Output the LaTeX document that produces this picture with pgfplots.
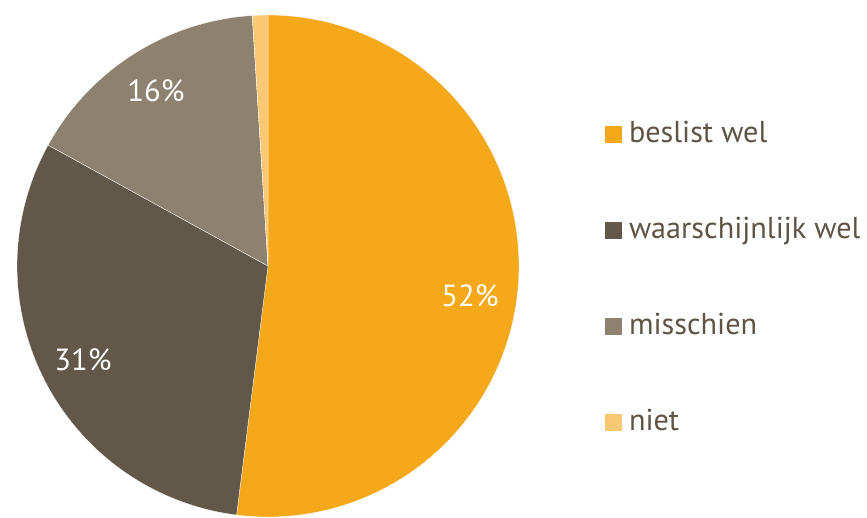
\documentclass[border=0pt]{standalone}
\usepackage{fontspec}
\setmainfont{PT Sans}
\usepackage{pgfplots}
\pgfplotsset{compat=1.18}
\definecolor{c1}{HTML}{F6A81B}
\definecolor{c2}{HTML}{625849}
\definecolor{c3}{HTML}{8D8270}
\definecolor{c4}{HTML}{F9C875}
\definecolor{txt}{HTML}{5E5446}
\def\vA{52}\def\vB{31}\def\vC{16}\def\vD{1}
\pgfmathsetmacro\aO{90}
\pgfmathsetmacro\aA{\aO-3.6*\vA}
\pgfmathsetmacro\aB{\aA-3.6*\vB}
\pgfmathsetmacro\aC{\aB-3.6*\vC}
\pgfmathsetmacro\aD{\aC-3.6*\vD}
\begin{document}
\begin{tikzpicture}
\begin{axis}[
  scale only axis, width=433.5pt, height=257.5pt,
  xmin=0, xmax=867, ymin=0, ymax=515,
  hide axis, clip=false,
  legend image code/.code={\path[#1,draw=none] (0pt,-4.25pt) rectangle (8.5pt,4.25pt);},
  legend style={at={(axis cs:605,397)}, anchor=north west, draw=none, fill=none,
    inner sep=0pt, outer sep=0pt, row sep=32pt, column sep=3.5pt,
    font=\fontsize{15.1}{18}\selectfont, text=txt,
    nodes={inner sep=0pt, outer sep=0pt, text height=12pt, text depth=4pt}},
  legend cell align=left,
]
\path (axis cs:0,0) rectangle (axis cs:867,515);
\addplot[fill=c1, draw=white, line width=0.15pt, domain=\aA:\aO, samples=120, variable=\t]
  ({268+251*cos(t)},{249+251*sin(t)}) -- (axis cs:268,249) -- cycle;
\addlegendentry{beslist wel}
\addplot[fill=c2, draw=white, line width=0.15pt, domain=\aB:\aA, samples=80, variable=\t]
  ({268+251*cos(t)},{249+251*sin(t)}) -- (axis cs:268,249) -- cycle;
\addlegendentry{waarschijnlijk wel}
\addplot[fill=c3, draw=white, line width=0.15pt, domain=\aC:\aB, samples=50, variable=\t]
  ({268+251*cos(t)},{249+251*sin(t)}) -- (axis cs:268,249) -- cycle;
\addlegendentry{misschien}
\addplot[fill=c4, draw=white, line width=0.15pt, domain=\aD:\aC, samples=5, variable=\t]
  ({268+251*cos(t)},{249+251*sin(t)}) -- (axis cs:268,249) -- cycle;
\addlegendentry{niet}
\node[anchor=base west, inner sep=0pt, text=white, font=\fontsize{15.3}{18}\selectfont] at (axis cs:441,209) {52\%};
\node[anchor=base west, inner sep=0pt, text=white, font=\fontsize{15.3}{18}\selectfont] at (axis cs:54,145) {31\%};
\node[anchor=base west, inner sep=0pt, text=white, font=\fontsize{15.3}{18}\selectfont] at (axis cs:127,414) {16\%};
\end{axis}
\end{tikzpicture}
\end{document}
